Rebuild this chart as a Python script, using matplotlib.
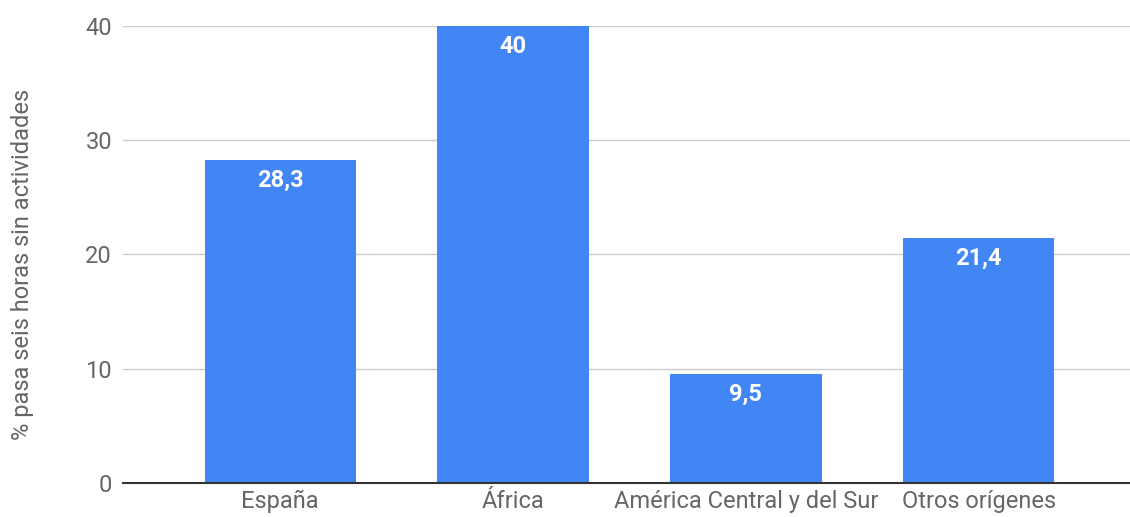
import matplotlib.pyplot as plt

# porcentaje que pasa seis horas sin actividades, por origen
origenes = ["España", "África", "América Central y del Sur", "Otros orígenes"]
valores = [28.3, 40, 9.5, 21.4]
etiquetas = ["28,3", "40", "9,5", "21,4"]

plt.rcParams['font.family'] = ['Roboto', 'DejaVu Sans']

fig = plt.figure(figsize=(11.3, 5.17), dpi=100)
ax = fig.add_axes([0.109, 0.0658, 0.891, 0.8839])

x = range(len(origenes))
barras = ax.bar(x, valores, width=0.65, color="#4285f4", zorder=3)

for b, et in zip(barras, etiquetas):
    ax.annotate(et, (b.get_x() + b.get_width() / 2, b.get_height()),
                xytext=(0, -14.5), textcoords="offset points",
                ha="center", va="center", color="white",
                fontsize=17, fontweight="bold", zorder=4)

ax.set_xlim(-0.675, 3.65)
ax.set_ylim(0, 40)
ax.set_yticks([0, 10, 20, 30, 40])
ax.set_xticks(list(x))
ax.set_xticklabels(origenes)
ax.grid(axis="y", color="#cccccc", linewidth=1, zorder=0)
ax.tick_params(length=0, labelsize=17, colors="#666666")
ax.tick_params(axis="y", pad=8)
ax.tick_params(axis="x", pad=5)

for s in ["top", "right", "left"]:
    ax.spines[s].set_visible(False)
ax.spines["bottom"].set_color("#333333")
ax.spines["bottom"].set_linewidth(1.5)
ax.spines["bottom"].set_zorder(5)

ax.set_ylabel("% pasa seis horas sin actividades", fontsize=17, color="#666666")
ax.yaxis.set_label_coords(-0.089, 0.479)

fig.savefig("out.png")
